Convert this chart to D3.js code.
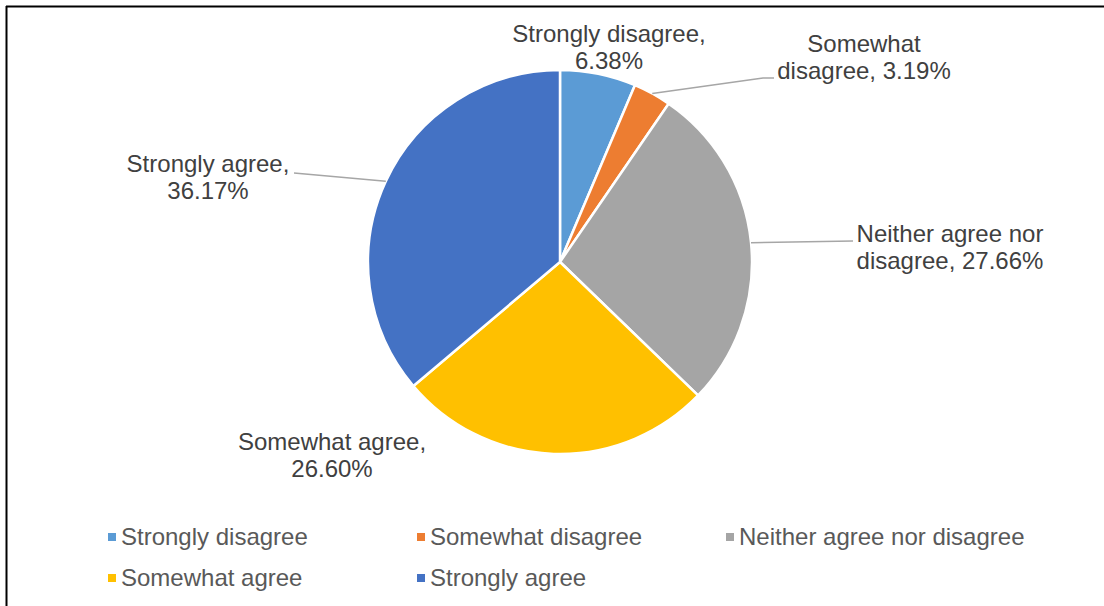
<!DOCTYPE html>
<html>
<head>
<meta charset="utf-8">
<script src="https://cdn.jsdelivr.net/npm/d3@7"></script>
<style>
  html, body { margin: 0; padding: 0; background: #ffffff; }
  svg { display: block; font-family: "Liberation Sans", Arial, sans-serif; }
</style>
</head>
<body>
<svg id="chart" width="1104" height="606"></svg>
<script>
// ---- data ----
const categories = ["Strongly disagree", "Somewhat disagree", "Neither agree nor disagree", "Somewhat agree", "Strongly agree"];
const values = [6.38, 3.19, 27.66, 26.60, 36.17];
const colors = ["#5B9BD5", "#ED7D31", "#A5A5A5", "#FFC000", "#4472C4"];
// data label text lines (as in the chart)
const labelLines = [
  ["Strongly disagree,", "6.38%"],
  ["Somewhat", "disagree, 3.19%"],
  ["Neither agree nor", "disagree, 27.66%"],
  ["Somewhat agree,", "26.60%"],
  ["Strongly agree,", "36.17%"]
];

// ---- layout ----
const W = 1104, H = 606;
const cx = 560, cy = 262, R = 192;
// label anchor (center x, first baseline y) and leader end points
const labelPos = [
  {x: 609, y: 42, leader: null},
  {x: 864, y: 52, leader: [[763, 78], [774, 78]]},
  {x: 950, y: 242, leader: [[853, 241]]},
  {x: 332, y: 450, leader: null},
  {x: 208, y: 172, leader: [[294, 173]]}
];

const svg = d3.select("#chart");

// frame (left and top edges visible)
svg.append("line").attr("x1", 6.5).attr("y1", 6).attr("x2", 6.5).attr("y2", H).attr("stroke", "#000").attr("stroke-width", 2);
svg.append("line").attr("x1", 6).attr("y1", 6.5).attr("x2", W).attr("y2", 6.5).attr("stroke", "#000").attr("stroke-width", 2);

const pie = d3.pie().sort(null).value(d => d).startAngle(0).endAngle(2 * Math.PI);
const arcs = pie(values);
const arc = d3.arc().innerRadius(0).outerRadius(R);

const g = svg.append("g").attr("transform", `translate(${cx},${cy})`);
g.selectAll("path.slice").data(arcs).join("path")
  .attr("class", "slice")
  .attr("d", arc)
  .attr("fill", (d, i) => colors[i])
  .attr("stroke", "#ffffff")
  .attr("stroke-width", 2.5)
  .attr("stroke-linejoin", "round");

// leader lines
arcs.forEach((d, i) => {
  const lp = labelPos[i];
  if (!lp.leader) return;
  const mid = (d.startAngle + d.endAngle) / 2;
  const start = [cx + R * Math.sin(mid), cy - R * Math.cos(mid)];
  const pts = [start].concat(lp.leader);
  svg.append("path")
    .attr("d", d3.line()(pts))
    .attr("fill", "none")
    .attr("stroke", "#A6A6A6")
    .attr("stroke-width", 1.5);
});

// data labels
labelLines.forEach((lines, i) => {
  const lp = labelPos[i];
  const t = svg.append("text")
    .attr("text-anchor", "middle")
    .attr("font-size", 24)
    .attr("fill", "#404040");
  lines.forEach((s, k) => {
    t.append("tspan").attr("x", lp.x).attr("y", lp.y + k * 27).text(s);
  });
});

// legend
const legendCols = [108, 417, 726];
const legendRows = [545, 586];
categories.forEach((c, i) => {
  const col = i % 3, row = Math.floor(i / 3);
  const x = legendCols[col], y = legendRows[row];
  svg.append("rect").attr("x", x).attr("y", y - 12).attr("width", 8).attr("height", 8).attr("fill", colors[i]);
  svg.append("text").attr("x", x + 13).attr("y", y)
    .attr("font-size", 24).attr("fill", "#595959").text(c);
});
</script>
</body>
</html>
